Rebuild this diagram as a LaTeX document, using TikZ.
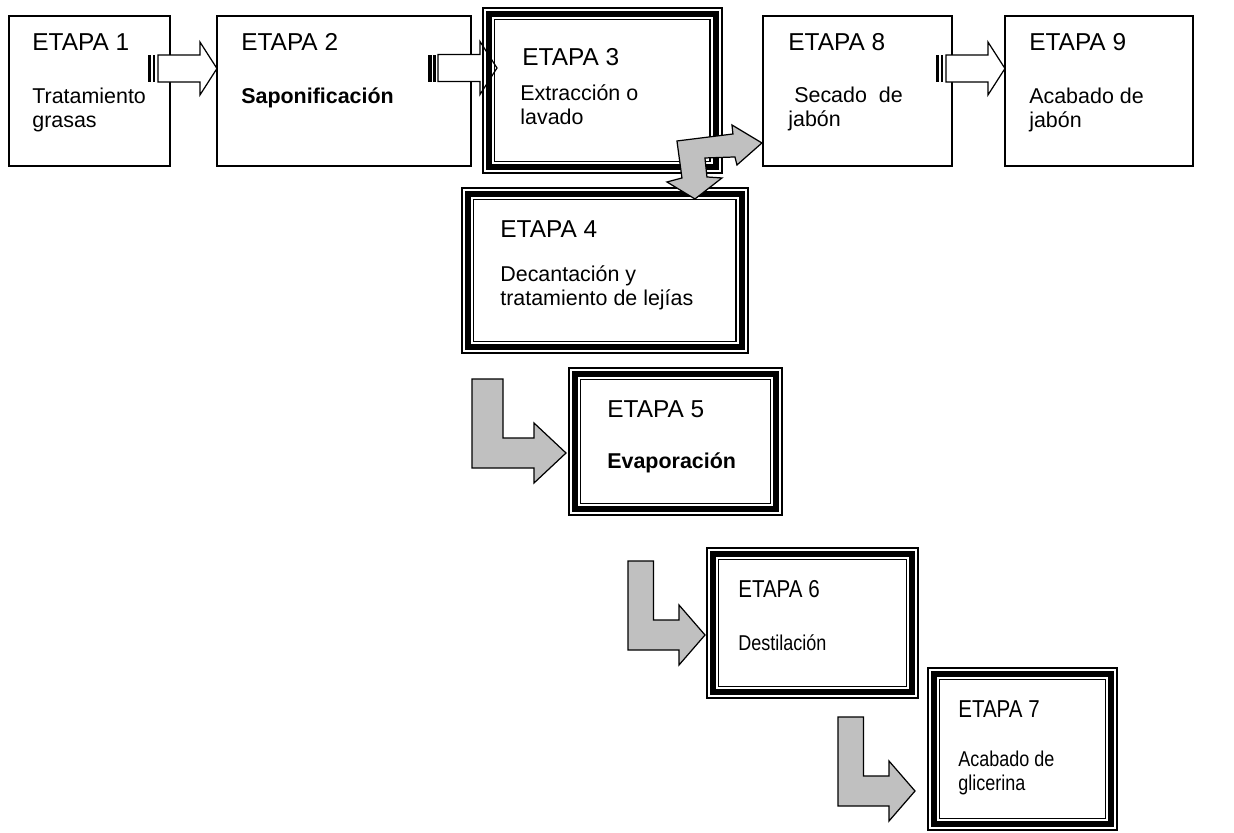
\documentclass[tikz,border=0pt]{standalone}
\usepackage{fontspec}
\setmainfont{Liberation Sans}
\newfontfamily\narrowfont[FakeStretch=0.84]{Liberation Sans}
\usetikzlibrary{positioning,calc}

\definecolor{arrowgray}{HTML}{C0C0C0}

% thin-thick-thin border round a node
\newcommand\tripleframe[1]{%
  \draw[line width=1.1pt] (#1.north west) rectangle (#1.south east);
  \draw[line width=3pt] ($(#1.north west)+(6,6)$) rectangle ($(#1.south east)+(-6,-6)$);
  \draw[line width=1.1pt] ($(#1.north west)+(11.5,11.5)$) rectangle ($(#1.south east)+(-11.5,-11.5)$);}

% white block arrow with two stripes, given its tip
\newcommand\stripedarrow[1]{%
  \begin{scope}[shift={(#1)}]
    \fill (-69,-13.5) rectangle (-65.5,13.5);
    \fill (-64,-13.5) rectangle (-61.5,13.5);
    \draw[whitearrow] (-59,-13.5) -- (-17,-13.5) -- (-17,-26.5) -- (0,0)
      -- (-17,26.5) -- (-17,13.5) -- (-59,13.5) -- cycle;
  \end{scope}}

% gray L-shaped arrow: shaft width, head length, tip
\newcommand\bentarrow[3]{%
  \begin{scope}[shift={(#3)}]
    \draw[grayarrow] (-#2-2*#1,-74) -- (-#2-#1,-74) -- (-#2-#1,-15) -- (-#2,-15)
      -- (-#2,-30) -- (0,0) -- (-#2,30) -- (-#2,15) -- (-#2-2*#1,15) -- cycle;
  \end{scope}}

\begin{document}
\begin{tikzpicture}[x=0.02cm, y=-0.02cm,
  box/.style={draw, line width=0.9pt, anchor=north west, outer sep=0pt, inner sep=0pt},
  framed/.style={anchor=north west, outer sep=0pt, inner sep=0pt},
  whitearrow/.style={draw, fill=white, line width=0.7pt, line join=miter},
  grayarrow/.style={draw, fill=arrowgray, line width=0.7pt, line join=miter},
  ttl/.style={anchor=base west, inner sep=0pt, font=\fontsize{13.9}{16}\selectfont},
  bdy/.style={anchor=base west, inner sep=0pt, align=left,
              font=\fontsize{12.2}{13.4}\selectfont},
  nttl/.style={ttl, font=\narrowfont\fontsize{13.9}{16}\selectfont},
  nbdy/.style={bdy, font=\narrowfont\fontsize{12.2}{13.4}\selectfont}]
  \useasboundingbox (0,0) rectangle (1234,832);

  \node[box, minimum width=3.22cm, minimum height=3cm] (e1) at (9,16) {};
  \node[box, minimum width=5.08cm, minimum height=3cm,
        right=0.94cm of e1.north east, anchor=north west] (e2) {};
  \node[framed, minimum width=4.78cm, minimum height=3.3cm] (e3) at (483,8) {};
  \node[box, minimum width=3.78cm, minimum height=3cm] (e8) at (763,16) {};
  \node[box, minimum width=3.76cm, minimum height=3cm,
        right=1.06cm of e8.north east, anchor=north west] (e9) {};
  \node[framed, minimum width=5.72cm, minimum height=3.3cm] (e4) at (462,188) {};
  \node[framed, minimum width=4.26cm, minimum height=2.94cm] (e5) at (569,368) {};
  \node[framed, minimum width=4.22cm, minimum height=3cm] (e6) at (707,548) {};
  \node[framed, minimum width=3.78cm, minimum height=3.24cm] (e7) at (928,668) {};

  \stripedarrow{$(e2.north west)+(0,52.5)$}
  \stripedarrow{$(e3.north west)+(14,60)$}
  \stripedarrow{$(e9.north west)+(0,52.5)$}

  \tripleframe{e3}
  \tripleframe{e4}
  \tripleframe{e5}
  \tripleframe{e6}
  \tripleframe{e7}

  % split arrow out of etapa 3
  \begin{scope}[shift={(e3.south east)}]
    \draw[grayarrow] (-45,-32) -- (11,-39) -- (10,-48) -- (40,-30) -- (15,-8)
      -- (13,-16) -- (-17,-15) -- (-15,4) -- (0,5) -- (-27,26) -- (-55,9)
      -- (-40,5) -- cycle;
  \end{scope}
  \bentarrow{31}{32}{$(e5.north west)+(-3,85)$}
  \bentarrow{25.5}{26}{$(e6.north west)+(-2,87)$}
  \bentarrow{25.5}{26}{$(e7.north west)+(-13,123)$}

  \node[ttl] (t1) at ($(e1.north west)+(23,34)$) {ETAPA 1};
  \node[bdy] (b1) at ($(e1.north west)+(23,111)$) {Tratamiento\\grasas};
  \node[ttl] (t2) at ($(e2.north west)+(24,34)$) {ETAPA 2};
  \node[bdy, font=\bfseries\fontsize{12.2}{13.4}\selectfont] (b2)
    at ($(e2.north west)+(24,87)$) {Saponificación};
  \node[ttl] (t3) at ($(e3.north west)+(39,57)$) {ETAPA 3};
  \node[bdy] (b3) at ($(e3.north west)+(37,116)$) {Extracción o\\lavado};
  \node[ttl] (t8) at ($(e8.north west)+(25,34)$) {ETAPA 8};
  \node[bdy] (b8) at ($(e8.north west)+(25,110)$) {\ Secado\ \ de\\jabón};
  \node[ttl] (t9) at ($(e9.north west)+(24,34)$) {ETAPA 9};
  \node[bdy] (b9) at ($(e9.north west)+(24,111)$) {Acabado de\\jabón};
  \node[ttl] (t4) at ($(e4.north west)+(38,49)$) {ETAPA 4};
  \node[bdy] (b4) at ($(e4.north west)+(38,117)$) {Decantación y\\tratamiento de lejías};
  \node[ttl] (t5) at ($(e5.north west)+(38,49)$) {ETAPA 5};
  \node[bdy, font=\bfseries\fontsize{12.2}{13.4}\selectfont] (b5)
    at ($(e5.north west)+(38,100)$) {Evaporación};
  \node[nttl] (t6) at ($(e6.north west)+(31,49)$) {ETAPA 6};
  \node[nbdy] (b6) at ($(e6.north west)+(31,102)$) {Destilación};
  \node[nttl] (t7) at ($(e7.north west)+(30,49)$) {ETAPA 7};
  \node[nbdy] (b7) at ($(e7.north west)+(30,122)$) {Acabado de\\glicerina};
\end{tikzpicture}
\end{document}
